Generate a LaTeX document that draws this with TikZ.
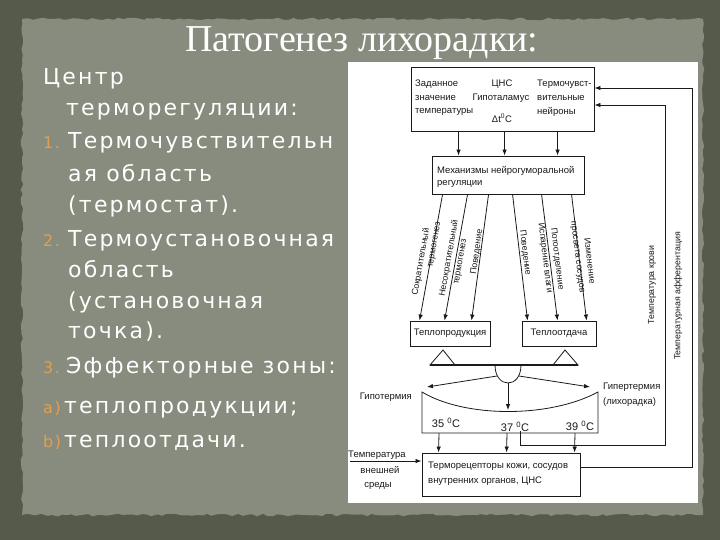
\documentclass[tikz,border=0pt]{standalone}
\usepackage{fontspec}
\setmainfont{Liberation Sans}
\newfontfamily\titlefont{Liberation Serif}
\newfontfamily\bodyfont[LetterSpace=10]{DejaVu Sans}
\usetikzlibrary{arrows.meta,decorations.pathmorphing}
\definecolor{outerbg}{HTML}{555A4B}
\definecolor{panelbg}{HTML}{888C7E}
\definecolor{numcol}{HTML}{E0A050}
\definecolor{ink}{HTML}{1A1A1A}
\begin{document}
\begin{tikzpicture}[x=1pt,y=-1pt,
 body/.style={anchor=base west, inner sep=0pt, text=white, font=\bodyfont\fontsize{22}{26}\selectfont},
 num/.style={anchor=base west, inner sep=0pt, text=numcol, font=\bodyfont\fontsize{16}{20}\selectfont},
 box/.style={draw=ink, line width=0.9pt, fill=white, inner sep=0pt},
 dtext/.style={inner sep=0pt, text=ink, font=\fontsize{9.5}{11}\selectfont},
 deg/.style={inner sep=0pt, text=ink, font=\fontsize{11}{12}\selectfont},
 arr/.style={draw=ink, line width=0.8pt, -{Latex[length=6pt,width=4.5pt]}},
 ln/.style={draw=ink, line width=0.8pt},
 vlab/.style={inner sep=0pt, text=ink, font=\fontsize{8.8}{10}\selectfont}]
\useasboundingbox (0,0) rectangle (720,540);
% background
\fill[outerbg] (0,0) rectangle (720,540);
\pgfmathsetseed{7}
\fill[panelbg, decorate, decoration={random steps, segment length=5pt, amplitude=1.3pt}] (22,19) rectangle (703,515);
\fill[white] (348,62) rectangle (698,503);
% title
\node[font=\titlefont\fontsize{38}{40}\selectfont, text=white, anchor=base, inner sep=0pt] (title) at (362,52) {Патогенез лихорадки:};
% left text
\node[body] (p1) at (43,85) {Центр};
\node[body] (p2) at (66,116) {терморегуляции:};
\node[num] (n1) at (43,149) {1.};
\node[body] (p3) at (68,149) {Термочувствительн};
\node[body] (p4) at (68,182) {ая область};
\node[body] (p5) at (68,212) {(термостат).};
\node[num] (n2) at (43,247) {2.};
\node[body] (p6) at (68,247) {Термоустановочная};
\node[body] (p7) at (68,277) {область};
\node[body] (p8) at (68,308) {(установочная};
\node[body] (p9) at (68,338) {точка).};
\node[num] (n3) at (43,373) {3.};
\node[body] (p10) at (66,373) {Эффекторные зоны:};
\node[num] (na) at (43,413) {a)};
\node[body] (p11) at (64,413) {теплопродукции;};
\node[num] (nb) at (43,447) {b)};
\node[body] (p12) at (64,447) {теплоотдачи.};
% boxes
\node[box, minimum width=183pt, minimum height=64pt] (top) at (502.5,99) {};
\node[dtext, anchor=west] (ta1) at (415,84) {Заданное};
\node[dtext, anchor=west] (ta2) at (415,98) {значение};
\node[dtext, anchor=west] (ta3) at (415,112) {температуры};
\node[dtext] (tb1) at (502,84) {ЦНС};
\node[dtext] (tb2) at (501,98) {Гипоталамус};
\node[dtext] (tb3) at (502,118) {Δt\textsuperscript{0}C};
\node[dtext, anchor=west] (tc1) at (537,84) {Термочувст-};
\node[dtext, anchor=west] (tc2) at (537,98) {вительные};
\node[dtext, anchor=west] (tc3) at (537,112) {нейроны};
\node[box, minimum width=152pt, minimum height=38pt] (mech) at (508,175) {};
\node[dtext, anchor=west] (m1) at (437,171) {Механизмы нейрогуморальной};
\node[dtext, anchor=west] (m2) at (437,184) {регуляции};
\node[box, minimum width=80pt, minimum height=25pt] (prod) at (450,333.5) {};
\node[dtext] (prodt) at (450,333.5) {Теплопродукция};
\node[box, minimum width=74pt, minimum height=25pt] (loss) at (559,333.5) {};
\node[dtext] (losst) at (559,333.5) {Теплоотдача};
\node[box, minimum width=158pt, minimum height=43pt] (thermo) at (501,474.5) {};
\node[dtext, anchor=west] (r1) at (428,466) {Терморецепторы кожи, сосудов};
\node[dtext, anchor=west] (r2) at (428,481) {внутренних органов, ЦНС};
% top -> mech
\draw[arr] ([xshift=48pt]top.south west) -- ([xshift=27pt]mech.north west);
\draw[arr] ([xshift=94pt]top.south west) -- ([xshift=73pt]mech.north west);
\draw[arr] ([xshift=147pt]top.south west) -- ([xshift=126pt]mech.north west);
% mech -> effectors
\draw[arr] ([xshift=11pt]mech.south west) -- ([xshift=10pt]prod.north west);
\draw[arr] ([xshift=36pt]mech.south west) -- ([xshift=35pt]prod.north west);
\draw[arr] ([xshift=57pt]mech.south west) -- ([xshift=62pt]prod.north west);
\draw[arr] ([xshift=81pt]mech.south west) -- ([xshift=6pt]loss.north west);
\draw[arr] ([xshift=110pt]mech.south west) -- ([xshift=36pt]loss.north west);
\draw[arr] ([xshift=140pt]mech.south west) -- ([xshift=65pt]loss.north west);
% rotated labels
\node[vlab, rotate=80] (l1a) at (421,262) {Сократительный};
\node[vlab, rotate=80] (l1b) at (435,245) {термогенез};
\node[vlab, rotate=80] (l2a) at (449,258) {Несократительный};
\node[vlab, rotate=80] (l2b) at (461,262) {термогенез};
\node[vlab, rotate=82] (l3) at (477,252) {Поведение};
\node[vlab, rotate=-83] (l4) at (525,253) {Поведение};
\node[vlab, rotate=-83] (l5a) at (557,259) {Потоотделение};
\node[vlab, rotate=-83] (l5b) at (545,258) {Испарение влаги};
\node[vlab, rotate=-83] (l6a) at (590,261) {Изменение};
\node[vlab, rotate=-83] (l6b) at (577,257) {просвета сосудов};
% balance
\draw[ln] (443,350) -- (430,365) -- (455,365) -- cycle;
\draw[ln] (565,350) -- (553,365) -- (578,365) -- cycle;
\draw[draw=ink, line width=1.1pt] (430,365) -- (578,365);
\draw[ln] (495,365) .. controls (495,389) and (521,389) .. (521,365);
\coordinate (cupL) at (497,376);
\coordinate (cupB) at (508,383);
\coordinate (cupR) at (519,376);
\coordinate (hypo) at (427,387);
\coordinate (hyper) at (590,387);
\coordinate (scl) at (508,410);
\draw[arr] (cupL) -- (hypo);
\draw[arr] (cupR) -- (hyper);
\draw[arr] (cupB) -- (scl);
\draw[ln] (422,392) .. controls (465,418) and (550,418) .. (598,392) -- (598,433) -- (422,433) -- cycle;
\node[dtext, anchor=east] (hyt) at (412,397) {Гипотермия};
\node[dtext, anchor=west] (hrt1) at (603,387) {Гипертермия};
\node[dtext, anchor=west] (hrt2) at (603,402) {(лихорадка)};
\node[deg] (c35) at (446,423) {35 \textsuperscript{0}C};
\node[deg] (c37) at (515,427) {37 \textsuperscript{0}C};
\node[deg] (c39) at (580,426) {39 \textsuperscript{0}C};
\coordinate (s35) at (439,433);
\coordinate (s37) at (507,433);
\coordinate (s39) at (575,433);
\draw[arr] (s35) -- ([xshift=17pt]thermo.north west);
\draw[arr] (s37) -- ([xshift=85pt]thermo.north west);
\draw[arr] (s39) -- ([xshift=153pt]thermo.north west);
% blood temperature loop
\coordinate (b0) at (520,431);
\coordinate (bc) at (665,445);
\draw[arr] (b0) |- (bc) |- ([yshift=-6pt]top.east);
\node[vlab, rotate=90] (bt) at (652,285) {Температура крови};
% afferentation loop
\coordinate (ac) at (692,467);
\draw[arr] ([yshift=7.5pt]thermo.east) -- (ac) |- ([yshift=11pt]top.east);
\node[vlab, rotate=90] (af) at (678,296) {Температурная афферентация};
% external temperature
\coordinate (ext) at (350,461);
\draw[arr] (ext) -- ([yshift=13.5pt]thermo.west);
\node[dtext] (e1) at (377,455) {Температура};
\node[dtext] (e2) at (380,470) {внешней};
\node[dtext] (e3) at (378,486) {среды};
\end{tikzpicture}
\end{document}
